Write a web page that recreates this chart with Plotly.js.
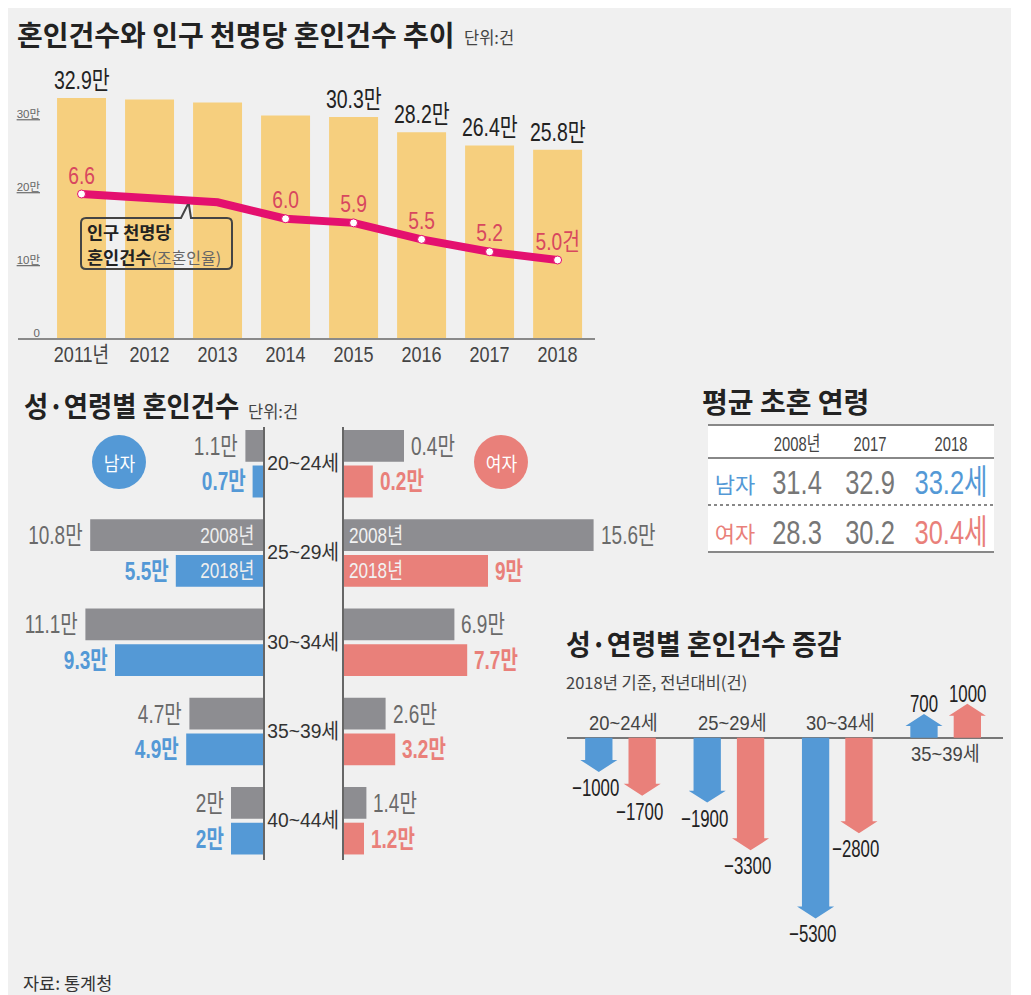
<!DOCTYPE html>
<html>
<head>
<meta charset="utf-8">
<script src="https://cdn.plot.ly/plotly-3.0.1.min.js"></script>
<style>html,body{margin:0;padding:0;background:#fff;overflow:hidden}#chart{width:1031px;height:995px}</style>
</head>
<body>
<div id="chart"></div>
<script>
// ---- data ----
const years = ["2011","2012","2013","2014","2015","2016","2017","2018"];
const yearLabels = ["2011년","2012","2013","2014","2015","2016","2017","2018"];
const marriages = [32.9,32.7,32.3,30.5,30.3,28.2,26.4,25.8];
const marriageLabels = ["32.9만","","","","30.3만","28.2만","26.4만","25.8만"];
const crudeRate = [6.6,6.5,6.4,6.0,5.9,5.5,5.2,5.0];
const crudeRateLabels = ["6.6","","","6.0","5.9","5.5","5.2","5.0건"];

const ages = ["20~24세","25~29세","30~34세","35~39세","40~44세"];
const male2008 = [1.1,10.8,11.1,4.6,2.0];
const male2018 = [0.65,5.45,9.25,4.8,2.0];
const female2008 = [3.75,15.6,6.9,2.6,1.4];
const female2018 = [1.8,9.0,7.7,3.2,1.25];
const male2008Labels = ["1.1만","10.8만","11.1만","4.7만","2만"];
const male2018Labels = ["0.7만","5.5만","9.3만","4.9만","2만"];
const female2008Labels = ["0.4만","15.6만","6.9만","2.6만","1.4만"];
const female2018Labels = ["0.2만","9만","7.7만","3.2만","1.2만"];

const tableYears = ["2008년","2017","2018"];
const tableRows = ["남자","여자"];
const avgAge2008 = ["31.4","28.3"];
const avgAge2017 = ["32.9","30.2"];
const avgAge2018 = ["33.2세","30.4세"];

const changeAges = ["20~24세","25~29세","30~34세","35~39세"];
const changeMale = [-1000,-1900,-5300,700];
const changeFemale = [-1700,-3300,-2800,1000];

// ---- style ----
const W = 1031, H = 995;
const NARROW = '"Liberation Sans","Noto Sans CJK KR",sans-serif';
const KR = '"Noto Sans CJK KR",sans-serif';
const GREY = '#8d8d91', BLUE = '#5499d6', SALMON = '#e9807a', GOLD = '#f6cf7e', PINK = '#e4106f';
const px = x => x / W, py = y => 1 - y / H;
const dom = (a, b) => [px(a), px(b)];
const vdom = (top, bot) => [py(bot), py(top)];

const ann = [];
function note(text, x, y, o) {
  ann.push(Object.assign({text, x, y, xref:'paper', yref:'paper', showarrow:false, xanchor:'left', yanchor:'middle',
    font:{family:KR, size:28, color:'#222'}}, o || {}));
}
const nfont = (size, color) => ({family:NARROW, size, color});

// titles
note('<b>혼인건수와 인구 천명당 혼인건수 추이</b>', px(15), py(34));
note('단위:건', px(462), py(37), {font:{family:KR, size:16.5, color:'#444'}});
note('<b>성·연령별 혼인건수</b>', px(22), py(405), {sx:0.94});
note('단위:건', px(246), py(411), {font:{family:KR, size:16.5, color:'#444'}});
note('<b>평균 초혼 연령</b>', px(700), py(401));
note('<b>성·연령별 혼인건수 증감</b>', px(564), py(643), {sx:0.96});
note('2018년 기준, 전년대비(건)', px(564), py(682), {font:{family:KR, size:16.5, color:'#444'}});
note('자료: 통계청', px(21), py(982), {font:{family:KR, size:17.5, color:'#333'}});

// top labels
years.forEach((yr, i) => {
  if (marriageLabels[i]) ann.push({text:marriageLabels[i], x:i, y:marriages[i], xref:'x', yref:'y', showarrow:false,
    yanchor:'bottom', yshift:2, font:nfont(25,'#222'), sx:0.78});
  if (crudeRateLabels[i]) ann.push({text:crudeRateLabels[i], x:i, y:crudeRate[i], xref:'x', yref:'y2', showarrow:false,
    yanchor:'middle', yshift:19, font:nfont(24,'#d8475f'), sx:0.8});
});
note('<b>인구 천명당</b>', px(85), py(232), {font:{family:KR, size:17.5, color:'#222'}});
note('<b>혼인건수</b><span style="color:#666;font-size:16px">(조혼인율)</span>', px(85), py(257), {font:{family:KR, size:17.5, color:'#222'}});

// butterfly labels
ages.forEach((a, i) => {
  ann.push({text:a, x:px(303), y:a, xref:'paper', yref:'y3', showarrow:false, xanchor:'center', yshift:1, font:nfont(21,'#333'), sx:0.92});
  const side = (xr, yr, val, text, up, color, anchor, shift, bold) => ann.push({
    text: bold ? '<b>'+text+'</b>' : text, x:val, y:a, xref:xr, yref:yr, showarrow:false, xanchor:anchor, xshift:shift,
    yshift: up ? 17.8 : -17.8, font:nfont(25,color), sx:0.76});
  side('x3','y3',male2008[i],male2008Labels[i],true,'#6a6a6a','right',-5,false);
  side('x3','y3',male2018[i],male2018Labels[i],false,BLUE,'right',-5,true);
  side('x4','y4',female2008[i],female2008Labels[i],true,'#6a6a6a','left',5,false);
  side('x4','y4',female2018[i],female2018Labels[i],false,SALMON,'left',5,true);
});
[['2008년',true],['2018년',false]].forEach(([t,up]) => {
  ann.push({text:t, x:0, y:ages[1], xref:'x3', yref:'y3', showarrow:false, xanchor:'right', xshift:-7, yshift:up?17.8:-17.8, font:nfont(22,'#eeeeee'), sx:0.78});
  ann.push({text:t, x:0, y:ages[1], xref:'x4', yref:'y4', showarrow:false, xanchor:'left', xshift:3, yshift:up?17.8:-17.8, font:nfont(22,'#f2f2f2'), sx:0.78});
});
note('남자', px(119), py(462), {xanchor:'center', font:{family:KR, size:19, color:'#fff'}, sx:0.9});
note('여자', px(501), py(462), {xanchor:'center', font:{family:KR, size:19, color:'#fff'}, sx:0.9});

// arrow chart labels
const OFF = 0.2, SHAFT = 0.126, HEADW = 0.171, HEADL = 350;
changeAges.forEach((a, i) => {
  const up = changeMale[i] > 0;
  ann.push({text:a, x:i + (up ? 0 : 0.03), y:0, xref:'x5', yref:'y5', showarrow:false, yshift: up ? -16 : 15, font:nfont(20,'#444'), sx:0.92});
  [[changeMale[i], i - OFF], [changeFemale[i], i + OFF]].forEach(([v, x]) => {
    ann.push({text:(v < 0 ? '−' : '') + Math.abs(v), x, y:v, xref:'x5', yref:'y5', showarrow:false,
      xanchor:'center', yanchor: v < 0 ? 'top' : 'bottom', yshift: v < 0 ? 0 : -5, xshift: v < 0 ? -3 : 0, font:nfont(24,'#222'), sx:0.7});
  });
});

function arrows(vals, dx) {
  const xs = [], ys = [];
  vals.forEach((v, i) => {
    const c = i + dx, s = v < 0 ? -1 : 1, hb = v - s * HEADL;
    xs.push(c-SHAFT, c-SHAFT, c-HEADW, c, c+HEADW, c+SHAFT, c+SHAFT, c-SHAFT, null);
    ys.push(0, hb, hb, v, hb, hb, 0, 0, null);
  });
  return {x:xs, y:ys};
}

const traces = [
  {type:'bar', x:years, y:marriages, xaxis:'x', yaxis:'y', width:0.72, marker:{color:GOLD}, hoverinfo:'skip'},
  {type:'scatter', mode:'lines+markers', x:years, y:crudeRate, xaxis:'x', yaxis:'y2',
    line:{color:PINK, width:8}, marker:{color:years.map((y,i)=>crudeRateLabels[i]?'#fff':'rgba(0,0,0,0)'), size:8,
    line:{color:years.map((y,i)=>crudeRateLabels[i]?PINK:'rgba(0,0,0,0)'), width:1}}, hoverinfo:'skip'},
  {type:'bar', orientation:'h', y:ages, x:male2008, xaxis:'x3', yaxis:'y3', marker:{color:GREY}, hoverinfo:'skip'},
  {type:'bar', orientation:'h', y:ages, x:male2018, xaxis:'x3', yaxis:'y3', marker:{color:BLUE}, hoverinfo:'skip'},
  {type:'bar', orientation:'h', y:ages, x:female2008, xaxis:'x4', yaxis:'y4', marker:{color:GREY}, hoverinfo:'skip'},
  {type:'bar', orientation:'h', y:ages, x:female2018, xaxis:'x4', yaxis:'y4', marker:{color:SALMON}, hoverinfo:'skip'},
  Object.assign({type:'scatter', mode:'lines', fill:'toself', fillcolor:BLUE, line:{width:0, color:BLUE}, xaxis:'x5', yaxis:'y5', hoverinfo:'skip'}, arrows(changeMale, -OFF)),
  Object.assign({type:'scatter', mode:'lines', fill:'toself', fillcolor:SALMON, line:{width:0, color:SALMON}, xaxis:'x5', yaxis:'y5', hoverinfo:'skip'}, arrows(changeFemale, OFF)),
  {type:'table', domain:{x:dom(708,994), y:vdom(425,552)}, columnwidth:[54,70,76,86],
    header:{values:[''].concat(tableYears), height:33, align:'center', line:{width:0}, fill:{color:'rgba(0,0,0,0)'},
      font:{family:NARROW, size:20, color:'#444'}},
    cells:{values:[tableRows, avgAge2008, avgAge2017, avgAge2018], height:47, align:'center', line:{width:0}, fill:{color:'rgba(0,0,0,0)'},
      font:{family:[KR,NARROW,NARROW,NARROW], size:[22,34,34,34],
        color:[[BLUE,SALMON],['#777','#777'],['#777','#777'],[BLUE,SALMON]]}}}
];

const hidden = {showgrid:false, zeroline:false, showticklabels:false, ticks:'', showline:false, fixedrange:true};
const b = {l:81,r:232,t:218,b:269,rad:5};
const calloutPath =
  `M ${px(b.l+b.rad)} ${py(b.t)} L ${px(181)} ${py(b.t)} L ${px(187.5)} ${py(205)} L ${px(189)} ${py(205)} L ${px(191)} ${py(b.t)} `+
  `L ${px(b.r-b.rad)} ${py(b.t)} Q ${px(b.r)} ${py(b.t)} ${px(b.r)} ${py(b.t+b.rad)} L ${px(b.r)} ${py(b.b-b.rad)} Q ${px(b.r)} ${py(b.b)} ${px(b.r-b.rad)} ${py(b.b)} `+
  `L ${px(b.l+b.rad)} ${py(b.b)} Q ${px(b.l)} ${py(b.b)} ${px(b.l)} ${py(b.b-b.rad)} L ${px(b.l)} ${py(b.t+b.rad)} Q ${px(b.l)} ${py(b.t)} ${px(b.l+b.rad)} ${py(b.t)} Z`;
const rule = (y, extra) => Object.assign({type:'line', xref:'paper', yref:'paper', x0:px(708), x1:px(994), y0:py(y), y1:py(y), line:{color:'#888', width:2}}, extra||{});

const layout = {
  width:W, height:H, margin:{l:0,r:0,t:0,b:0}, paper_bgcolor:'#fff', plot_bgcolor:'rgba(0,0,0,0)', showlegend:false,
  font:{family:NARROW, color:'#333'}, bargap:0.2, bargroupgap:0.11, barmode:'group',
  xaxis:{domain:dom(18,595), anchor:'y', type:'category', categoryorder:'array', categoryarray:years, range:[-0.934,7.55],
    tickmode:'array', tickvals:years, ticktext:yearLabels, tickfont:nfont(22,'#444'), ticks:'', showgrid:false, zeroline:false,
    showline:true, linecolor:'#8a8a8a', linewidth:2, fixedrange:true, ticklabelstandoff:0},
  yaxis:{domain:vdom(80,338), anchor:'free', position:px(40), range:[0,35.37], showgrid:false, zeroline:false, showline:false, fixedrange:true,
    tickmode:'array', tickvals:[0,10,20,30], ticktext:['0','<u>10만</u>','<u>20만</u>','<u>30만</u>'], ticks:'',
    ticklabelshift:-5, ticklabelstandoff:0, tickfont:nfont(11.5,'#666')},
  yaxis2:Object.assign({}, hidden, {domain:vdom(80,338), anchor:'x', overlaying:'y', range:[3.109,9.364]}),
  xaxis3:Object.assign({}, hidden, {domain:dom(23,263), anchor:'y3', range:[15,0]}),
  yaxis3:{domain:vdom(426.7,860), anchor:'x3', side:'right', type:'category', categoryorder:'array', categoryarray:ages, range:[4.44,-0.414],
    showgrid:false, zeroline:false, showticklabels:false, ticks:'', showline:true, linecolor:'#666', linewidth:2, fixedrange:true},
  xaxis4:Object.assign({}, hidden, {domain:dom(344,664), anchor:'y4', range:[0,20]}),
  yaxis4:{domain:vdom(426.7,860), anchor:'x4', side:'left', type:'category', categoryorder:'array', categoryarray:ages, range:[4.44,-0.414],
    showgrid:false, zeroline:false, showticklabels:false, ticks:'', showline:true, linecolor:'#666', linewidth:2, fixedrange:true},
  xaxis5:Object.assign({}, hidden, {domain:dom(567,1003), anchor:'y5', range:[-0.4935,3.529]}),
  yaxis5:{domain:vdom(690,940), anchor:'x5', range:[-5932,1403], showgrid:false, showticklabels:false, ticks:'', showline:false,
    zeroline:true, zerolinecolor:'#777', zerolinewidth:2, fixedrange:true},
  annotations:ann,
  shapes:[
    {type:'rect', layer:'below', xref:'paper', yref:'paper', x0:px(8), x1:px(1011), y0:0, y1:py(8), fillcolor:'#f0f0f0', line:{width:0}},
    {type:'rect', layer:'below', xref:'paper', yref:'paper', x0:px(708), x1:px(994), y0:py(552), y1:py(425), fillcolor:'#ffffff', line:{width:0}},
    {type:'circle', layer:'below', xref:'paper', yref:'paper', x0:px(92), x1:px(146), y0:py(489), y1:py(435), fillcolor:BLUE, line:{width:0}},
    {type:'circle', layer:'below', xref:'paper', yref:'paper', x0:px(474), x1:px(528), y0:py(489), y1:py(435), fillcolor:SALMON, line:{width:0}},
    {type:'path', xref:'paper', yref:'paper', path:calloutPath, line:{color:'#444', width:2}, fillcolor:'rgba(0,0,0,0)'},
    rule(425), rule(458), rule(505, {line:{color:'#888', width:2, dash:'dot'}}), rule(552)
  ]
};

// The reference's type is condensed; no narrow face is installed, so narrow the real text elements.
function squeeze(el, sx, mode, dy) {
  const bb = el.getBBox();
  const ox = mode === 'left' ? bb.x : mode === 'right' ? bb.x + bb.width : bb.x + bb.width / 2;
  const prev = el.getAttribute('transform') || '';
  el.setAttribute('transform', `${prev} translate(${ox} ${dy||0}) scale(${sx} 1) translate(${-ox} 0)`);
}
const secondRow = [tableRows[1], avgAge2008[1], avgAge2017[1], avgAge2018[1]];
Plotly.newPlot('chart', traces, layout, {displayModeBar:false, staticPlot:true}).then(gd => {
  gd.querySelectorAll('.annotation').forEach(g => {
    const a = ann[+g.getAttribute('data-index')];
    const t = g.querySelector('.annotation-text');
    if (a && a.sx && t) squeeze(t, a.sx, a.xanchor || 'center');
  });
  gd.querySelectorAll('.xtick text').forEach(t => squeeze(t, 0.82, 'center', -4));
  gd.querySelectorAll('.table text').forEach(t => {
    const s = t.textContent;
    if (!s) return;
    const row2 = secondRow.includes(s);
    if (tableYears.includes(s)) squeeze(t, 0.74, 'center', 3);
    else if (tableRows.includes(s)) squeeze(t, 1, 'center', row2 ? 12 : 10);
    else squeeze(t, 0.75, 'center', row2 ? 5 : 2);
  });
});
</script>
</body>
</html>
